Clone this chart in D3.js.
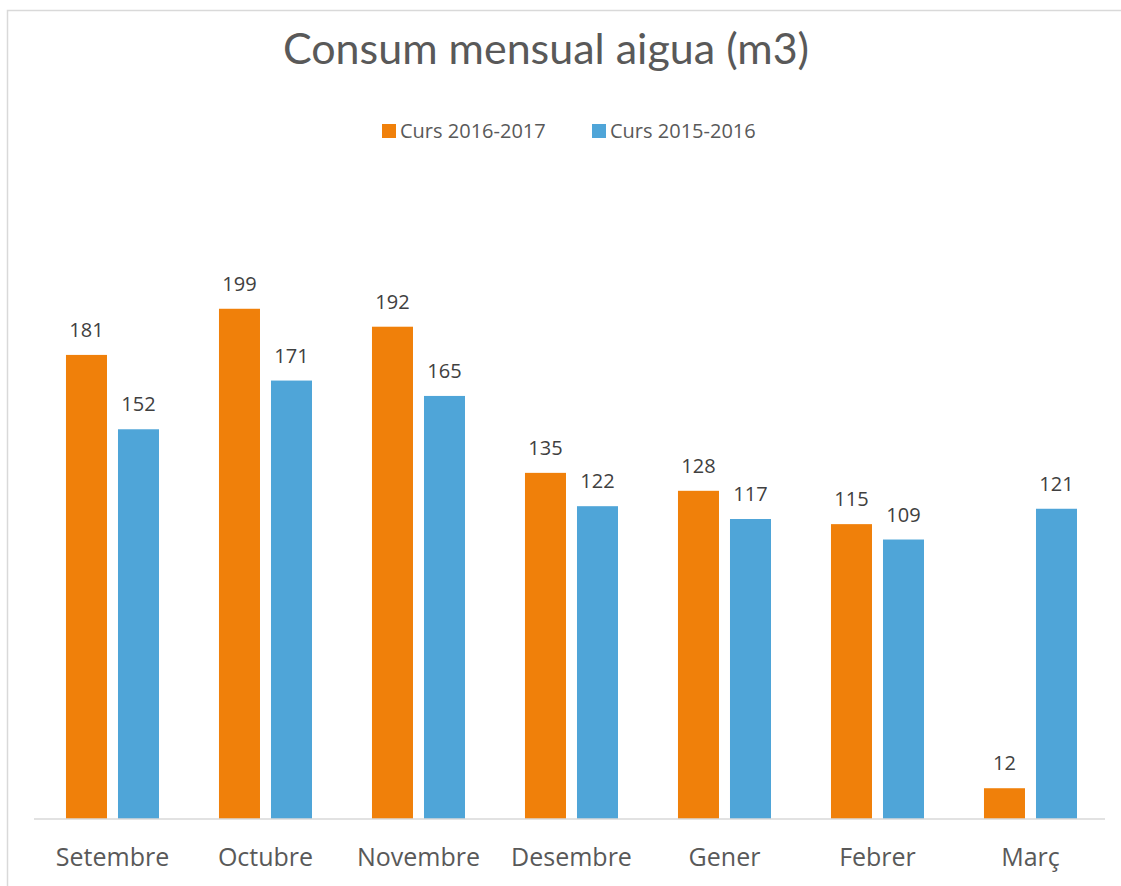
<!DOCTYPE html>
<html>
<head>
<meta charset="utf-8">
<script src="https://cdn.jsdelivr.net/npm/d3@7"></script>
<style>
  body { margin: 0; background: #fff; }
  text { font-family: "Open Sans", sans-serif; }
</style>
</head>
<body>
<svg id="chart" width="1121" height="886"></svg>
<script>
// Chart data
const months = ["Setembre", "Octubre", "Novembre", "Desembre", "Gener", "Febrer", "Març"];
const series = ["Curs 2016-2017", "Curs 2015-2016"];
const curs1617 = [181, 199, 192, 135, 128, 115, 12];
const curs1516 = [152, 171, 165, 122, 117, 109, 121];
const colors = ["#f0800a", "#4fa5d8"];

const svg = d3.select("#chart");

// Outer frame
svg.append("rect")
  .attr("x", 7.5).attr("y", 10.5)
  .attr("width", 1140).attr("height", 900)
  .attr("fill", "none")
  .attr("stroke", "#d9d9d9")
  .attr("stroke-width", 1.5);

const axisLeft = 34;
const step = 153;
const baseY = 819;
const pIn = 0.392, pOut = 0.209;

const g = svg.append("g");

const x = d3.scaleBand()
  .domain(months)
  .range([axisLeft, axisLeft + step * (months.length - pIn + 2 * pOut)])
  .paddingInner(pIn)
  .paddingOuter(pOut);

const xSub = d3.scaleBand()
  .domain(series)
  .range([0, x.bandwidth()])
  .paddingInner(0.2115);

const y = d3.scaleLinear()
  .domain([0, 250])
  .range([baseY, baseY - 250 * 2.564]);

const rows = months.map((m, i) => ({
  month: m,
  values: [
    { key: series[0], value: curs1617[i], color: colors[0] },
    { key: series[1], value: curs1516[i], color: colors[1] }
  ]
}));

const groups = g.selectAll(".grp")
  .data(rows)
  .enter()
  .append("g")
  .attr("class", "grp")
  .attr("transform", (d) => `translate(${x(d.month)},0)`);

groups.selectAll("rect")
  .data((d) => d.values)
  .enter()
  .append("rect")
  .attr("x", (d) => xSub(d.key))
  .attr("y", (d) => y(d.value))
  .attr("width", xSub.bandwidth())
  .attr("height", (d) => y(0) - y(d.value))
  .attr("fill", (d) => d.color);

groups.selectAll(".lbl")
  .data((d) => d.values)
  .enter()
  .append("text")
  .attr("class", "lbl")
  .attr("x", (d) => xSub(d.key) + xSub.bandwidth() / 2)
  .attr("y", (d) => y(d.value) - 18)
  .attr("text-anchor", "middle")
  .attr("font-size", "20px")
  .attr("fill", "#404040")
  .text((d) => d.value);

// X axis
const xAxis = d3.axisBottom(x).tickSize(0);
const axisG = g.append("g")
  .attr("transform", `translate(0,${baseY})`)
  .call(xAxis);
axisG.select(".domain")
  .attr("stroke", "#d9d9d9")
  .attr("stroke-width", 1.5)
  .attr("d", `M${axisLeft},0H${axisLeft + step * months.length}`);
axisG.selectAll(".tick text")
  .attr("y", 47)
  .attr("dy", null)
  .attr("font-size", "25px")
  .attr("fill", "#595959")
  .style("font-family", "'Open Sans', sans-serif");

// Title
svg.append("text")
  .attr("x", 546)
  .attr("y", 64)
  .attr("text-anchor", "middle")
  .attr("font-size", "43px")
  .attr("fill", "#595959")
  .style("font-family", "Lato, sans-serif")
  .text("Consum mensual aigua (m3)");

// Legend
const legendX = [382, 592];
const legend = svg.selectAll(".leg")
  .data(series)
  .enter()
  .append("g")
  .attr("class", "leg")
  .attr("transform", (d, i) => `translate(${legendX[i]},124)`);

legend.append("rect")
  .attr("width", 14).attr("height", 14)
  .attr("fill", (d, i) => colors[i]);

legend.append("text")
  .attr("x", 18)
  .attr("y", 13.5)
  .attr("font-size", "20px")
  .attr("fill", "#595959")
  .text((d) => d);
</script>
</body>
</html>
